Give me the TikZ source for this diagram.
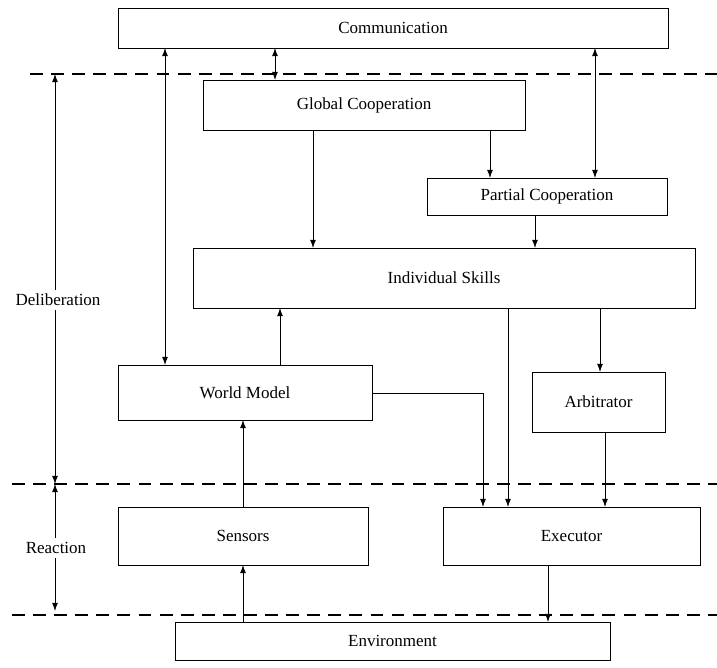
\documentclass[tikz,border=0pt]{standalone}
\usepackage{fontspec}
\setmainfont{Liberation Serif}
\usetikzlibrary{arrows.meta}
\begin{document}
\begin{tikzpicture}[x=0.03cm,y=-0.03cm,
  box/.style={draw,line width=0.6pt,inner sep=0pt},
  lab/.style={font=\fontsize{14.5}{16}\selectfont},
  ar/.style={line width=0.6pt,-{Latex[length=7pt,width=5pt]}},
  dar/.style={line width=0.6pt,{Latex[length=7pt,width=5pt]}-{Latex[length=7pt,width=5pt]}},
  dashln/.style={line width=1.2pt,dash pattern=on 11pt off 7pt}]
\useasboundingbox (0,0) rectangle (717,668);
\newcommand{\bx}[6]{\draw[box] (#2,#3) rectangle (#4,#5); \node[lab] (#1) at ({(#2+#4)/2},{(#3+#5)/2}) {#6};}
\bx{com}{118}{8}{668}{48}{Communication}
\bx{glo}{203}{80}{525}{130}{Global Cooperation}
\bx{par}{427}{178}{667}{215}{Partial Cooperation}
\bx{ind}{193}{248}{695}{308}{Individual Skills}
\bx{wm}{118}{365}{372}{420}{World Model}
\bx{arb}{532}{372}{665}{432}{Arbitrator}
\bx{sen}{118}{507}{368}{565}{Sensors}
\bx{exe}{443}{507}{700}{565}{Executor}
\bx{env}{175}{622}{610}{660}{Environment}
\draw[dashln] (30,74) -- (717,74);
\draw[dashln] (12,484) -- (717,484);
\draw[dashln] (12,615) -- (717,615);
\node[lab] (del) at (58,300) {Deliberation};
\node[lab] (rea) at (56,548) {Reaction};
\coordinate (d1) at (55,74); \coordinate (d2) at (55,484);
\draw[ar] (del.north -| d1) -- (d1);
\draw[ar] (del.south -| d1) -- (d2);
\draw[ar] (rea.north -| d2) -- (d2);
\draw[ar] (rea.south -| d2) -- (55,611);
\draw[dar] (165,48) -- (165,365);
\draw[dar] (275,48) -- (275,80);
\draw[dar] (595,48) -- (595,178);
\draw[ar] (313,130) -- (313,248);
\draw[ar] (490,130) -- (490,178);
\draw[ar] (535,215) -- (535,248);
\draw[ar] (280,365) -- (280,308);
\draw[ar] (600,308) -- (600,372);
\draw[ar] (508,308) -- (508,507);
\draw[ar] (372,393) -| (483,507);
\draw[ar] (605,432) -- (605,507);
\draw[ar] (243,507) -- (243,420);
\draw[ar] (243,622) -- (243,565);
\draw[ar] (548,565) -- (548,622);
\end{tikzpicture}
\end{document}
